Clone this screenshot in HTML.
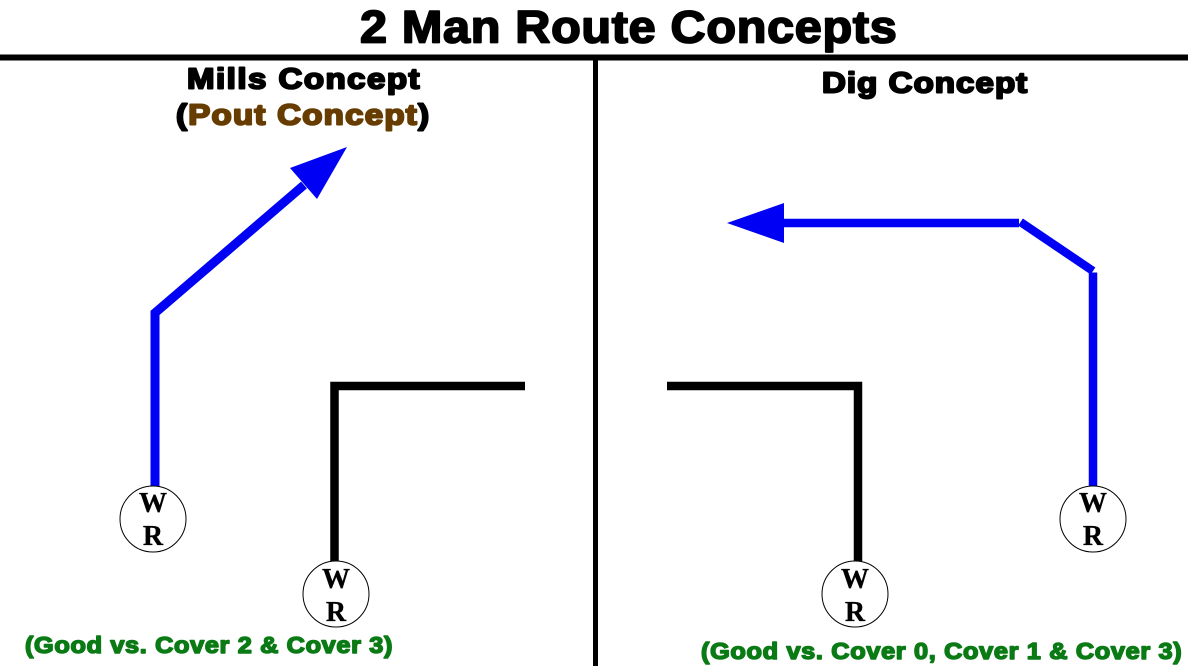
<!DOCTYPE html>
<html>
<head>
<meta charset="utf-8">
<style>
html,body{margin:0;padding:0;background:#fff;width:1188px;height:666px;overflow:hidden}
svg{display:block}
.h{font-family:"Liberation Sans",sans-serif;font-weight:bold;stroke-linejoin:round}
.p{font-family:"Liberation Serif",serif;font-weight:bold;font-size:28px;fill:#000;stroke:#000;stroke-width:.3;text-anchor:middle}
</style>
</head>
<body>
<svg width="1188" height="666" viewBox="0 0 1188 666" xmlns="http://www.w3.org/2000/svg">
<rect width="1188" height="666" fill="#fff"/>
<rect x="0" y="54.500" width="1188" height="6" fill="#000"/>
<rect x="593" y="57" width="5" height="609" fill="#000"/>

<text class="h" transform="translate(360,42.500) scale(1.08,1)" font-size="45" textLength="497" lengthAdjust="spacing" fill="#000" stroke="#000" stroke-width="1.800">2 Man Route Concepts</text>
<text class="h" transform="translate(187,88.500) scale(1.14,1)" font-size="29" textLength="204" lengthAdjust="spacing" fill="#000" stroke="#000" stroke-width="2">Mills Concept</text>
<text class="h" transform="translate(176,124.500) scale(1.14,1)" font-size="29" textLength="222" lengthAdjust="spacing" fill="#000" stroke="#000" stroke-width="2">(<tspan fill="#663c00" stroke="#663c00">Pout Concept</tspan>)</text>
<text class="h" transform="translate(822,92.500) scale(1.14,1)" font-size="29" textLength="180" lengthAdjust="spacing" fill="#000" stroke="#000" stroke-width="2">Dig Concept</text>
<text class="h" transform="translate(25,653) scale(1.1,1)" font-size="23" textLength="334" lengthAdjust="spacing" fill="#0a7a14" stroke="#0a7a14" stroke-width="1.500">(Good vs. Cover 2 &amp; Cover 3)</text>
<text class="h" transform="translate(701,659) scale(1.1,1)" font-size="23" textLength="437" lengthAdjust="spacing" fill="#0a7a14" stroke="#0a7a14" stroke-width="1.500">(Good vs. Cover 0, Cover 1 &amp; Cover 3)</text>

<polyline points="155,488 155,313 304,185" fill="none" stroke="#0000f5" stroke-width="9" stroke-linejoin="miter"/>
<polygon points="347,147 290,168 317,199" fill="#0000f5"/>

<line x1="1093" y1="488" x2="1093" y2="272.500" stroke="#0000f5" stroke-width="8.500"/>
<line x1="1093" y1="271" x2="1020.500" y2="222" stroke="#0000f5" stroke-width="8.500"/>
<line x1="1019" y1="223" x2="780" y2="223" stroke="#0000f5" stroke-width="8.500"/>
<polygon points="727,223 784,203 784,243" fill="#0000f5"/>

<polyline points="334.500,563 334.500,386 525,386" fill="none" stroke="#000" stroke-width="8.500" stroke-linejoin="miter"/>
<polyline points="858,563 858,386 667,386" fill="none" stroke="#000" stroke-width="8.500" stroke-linejoin="miter"/>

<circle cx="153" cy="519" r="33" fill="#fff" stroke="#000" stroke-width="1"/>
<text class="p" x="153" y="512">W</text>
<text class="p" x="153" y="545">R</text>

<circle cx="336" cy="594" r="33" fill="#fff" stroke="#000" stroke-width="1"/>
<text class="p" x="336" y="588">W</text>
<text class="p" x="336" y="621">R</text>

<circle cx="855" cy="594" r="33" fill="#fff" stroke="#000" stroke-width="1"/>
<text class="p" x="855" y="588">W</text>
<text class="p" x="855" y="621">R</text>

<circle cx="1093" cy="519" r="33" fill="#fff" stroke="#000" stroke-width="1"/>
<text class="p" x="1093" y="512">W</text>
<text class="p" x="1093" y="545">R</text>
</svg>
</body>
</html>
